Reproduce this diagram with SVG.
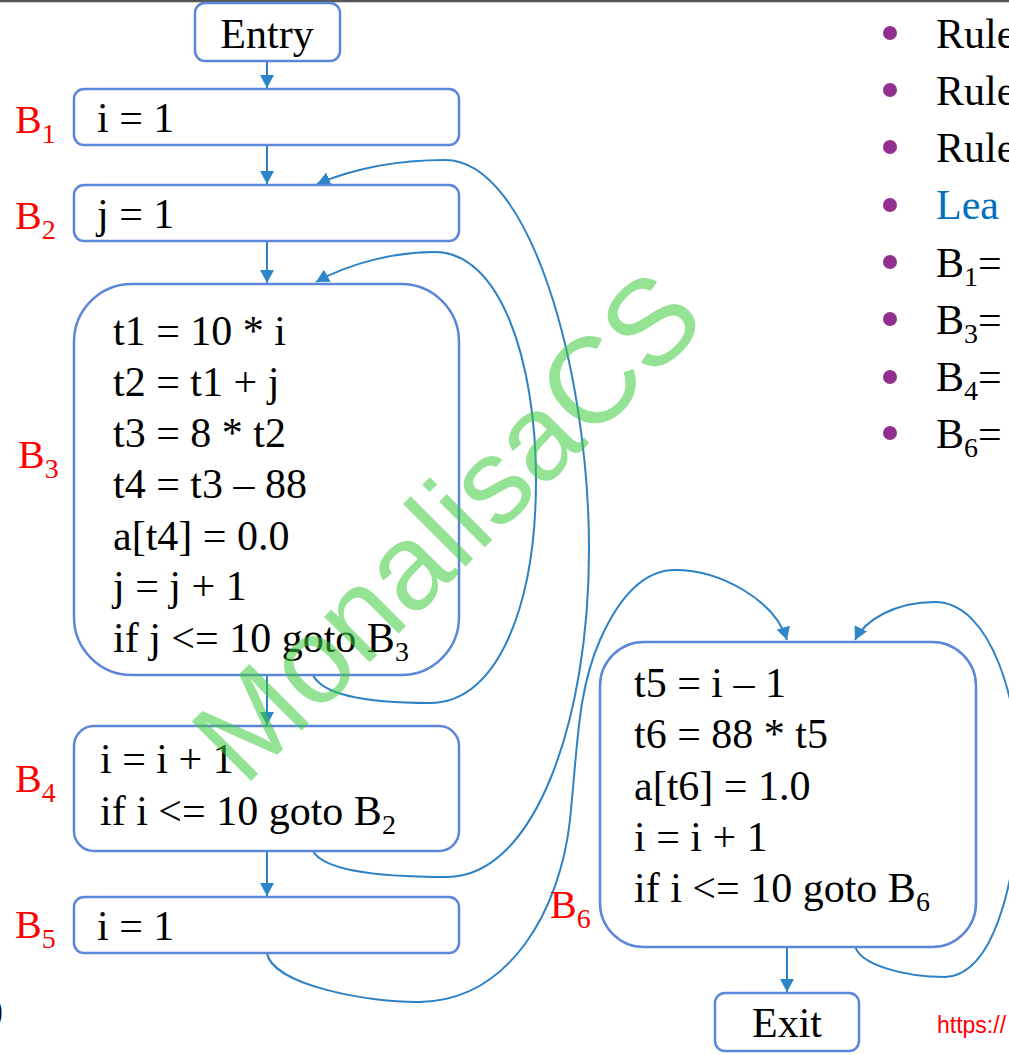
<svg xmlns="http://www.w3.org/2000/svg" width="1009" height="1055" viewBox="0 0 1009 1055">
<defs>
<style>
.box{fill:#fff;stroke:#5B86D9;stroke-width:2.5}
.code{font-family:"Liberation Serif","Times New Roman",serif;font-size:42px;fill:#000}
.lbl{font-family:"Liberation Serif","Times New Roman",serif;font-size:40px;fill:#FF0000}
.sub{font-size:28px}
.edge{fill:none;stroke:#2E82C4;stroke-width:2}
.bul{fill:#93308F}
.wm{font-family:"Liberation Sans",Arial,sans-serif;font-size:122px;fill:#3CCB3C;fill-opacity:0.55}
</style>
<marker id="ah" viewBox="0 0 13 14" refX="13" refY="7" markerWidth="13" markerHeight="14" markerUnits="userSpaceOnUse" orient="auto">
<path d="M0,0 L13,7 L0,14 z" fill="#2E86C8"/>
</marker>
</defs>
<rect x="0" y="0" width="1009" height="1055" fill="#fff"/>
<line x1="0" y1="1" x2="1009" y2="1" stroke="#555" stroke-width="2.5"/>

<g id="connectors">
<line class="edge" x1="267" y1="61" x2="267" y2="88" marker-end="url(#ah)"/>
<line class="edge" x1="267" y1="145" x2="267" y2="184" marker-end="url(#ah)"/>
<line class="edge" x1="267" y1="241" x2="267" y2="283" marker-end="url(#ah)"/>
<line class="edge" x1="267" y1="675" x2="267" y2="725" marker-end="url(#ah)"/>
<line class="edge" x1="267" y1="851" x2="267" y2="896" marker-end="url(#ah)"/>
<line class="edge" x1="787" y1="947" x2="787" y2="992" marker-end="url(#ah)"/>
<path class="edge" d="M313,675 C325,700 390,703 430,703 C500,703 536,600 536,480 C536,360 500,252 435,252 C395,252 350,263 316,282" marker-end="url(#ah)"/>
<path class="edge" d="M313,851 C325,873 390,877 447,877 C535,877 589,720 589,550 C589,370 530,160 445,160 C400,160 355,168 317,184" marker-end="url(#ah)"/>
<path class="edge" d="M267,953 C272,985 370,1003 420,1002 C510,1000 560,910 570,820 C578,740 578,690 600,640 C620,595 645,570 675,570 C720,570 775,600 787,640" marker-end="url(#ah)"/>
<path class="edge" d="M855,946 C860,965 905,977 945,977 C995,975 1015,880 1020,800 C1022,700 990,602 935,602 C895,602 865,620 855,640" marker-end="url(#ah)"/>
</g>

<g id="entry">
<rect class="box" x="195" y="3" width="145" height="58" rx="10"/>
<text class="code" x="267" y="48" text-anchor="middle">Entry</text>
</g>

<g id="b1">
<rect class="box" x="74" y="89" width="385" height="56" rx="10"/>
<text class="code" x="97" y="132">i = 1</text>
<text class="lbl" x="15" y="133">B<tspan class="sub" dy="10">1</tspan></text>
</g>

<g id="b2">
<rect class="box" x="74" y="185" width="385" height="56" rx="10"/>
<text class="code" x="97" y="228">j = 1</text>
<text class="lbl" x="15" y="229">B<tspan class="sub" dy="10">2</tspan></text>
</g>

<g id="b3">
<rect class="box" x="74" y="284" width="385" height="391" rx="58"/>
<text class="code" x="113" y="345">t1 = 10 * i</text>
<text class="code" x="113" y="396">t2 = t1 + j</text>
<text class="code" x="113" y="447">t3 = 8 * t2</text>
<text class="code" x="113" y="498">t4 = t3 – 88</text>
<text class="code" x="113" y="550">a[t4] = 0.0</text>
<text class="code" x="113" y="600">j = j + 1</text>
<text class="code" x="113" y="652">if j &lt;= 10 goto B<tspan class="sub" dy="9">3</tspan></text>
<text class="lbl" x="18" y="468">B<tspan class="sub" dy="10">3</tspan></text>
</g>

<g id="b4">
<rect class="box" x="74" y="726" width="385" height="125" rx="20"/>
<text class="code" x="100" y="773">i = i + 1</text>
<text class="code" x="100" y="825">if i &lt;= 10 goto B<tspan class="sub" dy="9">2</tspan></text>
<text class="lbl" x="15" y="792">B<tspan class="sub" dy="10">4</tspan></text>
</g>

<g id="b5">
<rect class="box" x="74" y="897" width="385" height="56" rx="10"/>
<text class="code" x="97" y="940">i = 1</text>
<text class="lbl" x="15" y="938">B<tspan class="sub" dy="10">5</tspan></text>
</g>

<g id="b6">
<rect class="box" x="600" y="642" width="376" height="305" rx="44"/>
<text class="code" x="634" y="697">t5 = i – 1</text>
<text class="code" x="634" y="748">t6 = 88 * t5</text>
<text class="code" x="634" y="800">a[t6] = 1.0</text>
<text class="code" x="634" y="851">i = i + 1</text>
<text class="code" x="634" y="902">if i &lt;= 10 goto B<tspan class="sub" dy="9">6</tspan></text>
<text class="lbl" x="550" y="918">B<tspan class="sub" dy="10">6</tspan></text>
</g>

<g id="exit">
<rect class="box" x="715" y="993" width="144" height="58" rx="10"/>
<text class="code" x="787" y="1037" text-anchor="middle">Exit</text>
</g>

<g id="bullets">
<circle class="bul" cx="890" cy="33" r="7"/>
<circle class="bul" cx="890" cy="90" r="7"/>
<circle class="bul" cx="890" cy="147" r="7"/>
<circle class="bul" cx="890" cy="205" r="7"/>
<circle class="bul" cx="890" cy="262" r="7"/>
<circle class="bul" cx="890" cy="319" r="7"/>
<circle class="bul" cx="890" cy="377" r="7"/>
<circle class="bul" cx="890" cy="433" r="7"/>
<text class="code" x="936" y="48">Rule</text>
<text class="code" x="936" y="105">Rule</text>
<text class="code" x="936" y="162">Rule</text>
<text class="code" x="936" y="219" style="fill:#0070C0">Lea</text>
<text class="code" x="936" y="277">B<tspan class="sub" dy="9">1</tspan><tspan dy="-9">=</tspan></text>
<text class="code" x="936" y="334">B<tspan class="sub" dy="9">3</tspan><tspan dy="-9">=</tspan></text>
<text class="code" x="936" y="391">B<tspan class="sub" dy="9">4</tspan><tspan dy="-9">=</tspan></text>
<text class="code" x="936" y="448">B<tspan class="sub" dy="9">6</tspan><tspan dy="-9">=</tspan></text>
</g>

<text class="code" x="-18" y="1027">0</text>
<text x="937" y="1033" font-family="Liberation Sans, Arial, sans-serif" font-size="23" fill="#FF0000">https://</text>

<text class="wm" x="244" y="788" transform="rotate(-45 244 788)">MonalisaCS</text>
</svg>
